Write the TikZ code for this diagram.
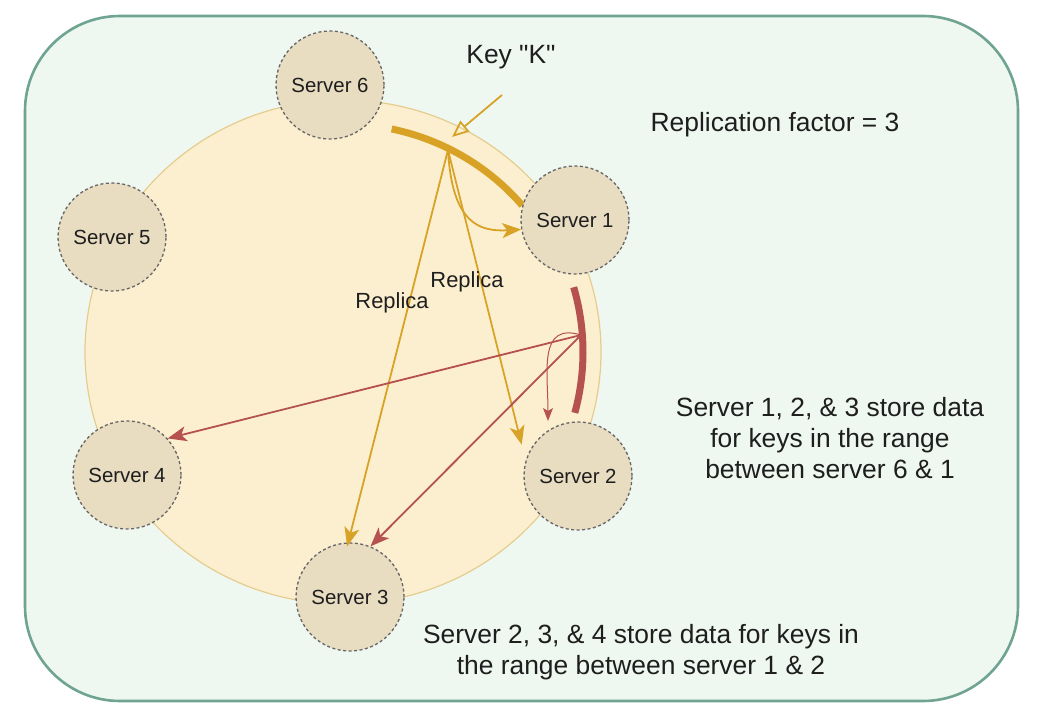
\documentclass[tikz,border=0pt]{standalone}
\usepackage{fontspec}
\setmainfont{Liberation Sans}[Ligatures=TeXOff]
\usetikzlibrary{arrows.meta}
\definecolor{bgfill}{HTML}{EEF8F1}
\definecolor{bgline}{HTML}{6FA392}
\definecolor{ringfill}{HTML}{FCEFCF}
\definecolor{ringline}{HTML}{E6CC8E}
\definecolor{srvfill}{HTML}{E8DCC1}
\definecolor{gold}{HTML}{D8A227}
\definecolor{brick}{HTML}{B5514E}
\definecolor{txt}{HTML}{1E1E1E}
\begin{document}
\begin{tikzpicture}[x=1bp,y=-1bp,
  server/.style={circle, draw=black!60, fill=srvfill, line width=1.3bp,
    dash pattern=on 3bp off 2.5bp, minimum size=108bp, inner sep=0pt,
    text=txt, font=\fontsize{20.5}{24}\selectfont},
  big/.style={text=txt, align=center, font=\fontsize{26.5}{31}\selectfont, inner sep=0pt},
  replica/.style={text=txt, font=\fontsize{22}{25}\selectfont, inner sep=0pt},
  goldarrow/.style={gold, line width=1.8bp, -{Stealth[length=19bp, width=15bp, inset=5bp]}},
  redarrow/.style={brick, line width=1.8bp, -{Stealth[length=19bp, width=15bp, inset=5bp]}},
]
\useasboundingbox (0,0) rectangle (1040,728);
\fill[white] (0,0) rectangle (1040,728);
\draw[bgline, fill=bgfill, line width=2.6bp, rounded corners=95bp] (25,16) rectangle (1018,701);
\draw[ringline, fill=ringfill, line width=1.2bp] (343,352) ellipse [x radius=258, y radius=252];

% range arcs
\draw[gold, line width=7bp] plot[domain=40:78, samples=40, smooth] ({343+234*cos(\x)},{352-228*sin(\x)});
\draw[brick, line width=7bp] plot[domain=-15:16, samples=30, smooth] ({343+240*cos(\x)},{352-235*sin(\x)});

% servers
\node[server] (s6) at (330,85) {Server 6};
\node[server] (s1) at (575,220) {Server 1};
\node[server] (s5) at (112,237) {Server 5};
\node[server] (s4) at (127,475) {Server 4};
\node[server] (s2) at (578,476) {Server 2};
\node[server] (s3) at (350,597) {Server 3};

\coordinate (k) at (448,150);
\coordinate (r) at (581,335);
\coordinate (kstart) at (502,95);
\coordinate (khead) at (452,137);
\coordinate (t2) at (548,421);

% key arrow
\node[big] (key) at (511,57) {Key "K"};
\draw[gold, line width=1.8bp, -{Triangle[open, length=17bp, width=14bp]}] (kstart) -- (khead);

% gold replicas
\draw[goldarrow] (k) .. controls (452,222) and (478,232) .. (s1.190);
\draw[goldarrow] (k) -- ([shift={(-9,-4)}]s2.150);
\draw[goldarrow] (k) -- ([yshift=-4]s3.93);

% red replicas
\draw[redarrow] (r) -- (s4.42);
\draw[redarrow] (r) -- (s3.68);
\draw[brick, line width=1bp, -{Stealth[length=13bp, width=10bp, inset=3bp]}] (r) .. controls (538,322) and (548,372) .. (t2);

% labels
\node[replica] (rep1) at (467,282) {Replica};
\node[replica] (rep2) at (392,303) {Replica};
\node[big] (rf) at (775,125) {Replication factor = 3};
\node[big] (t1) at (830,438) {Server 1, 2, \& 3 store data\\for keys in the range\\between server 6 \& 1};
\node[big] (t3) at (641,652) {Server 2, 3, \& 4 store data for keys in\\the range between server 1 \& 2};
\end{tikzpicture}
\end{document}
